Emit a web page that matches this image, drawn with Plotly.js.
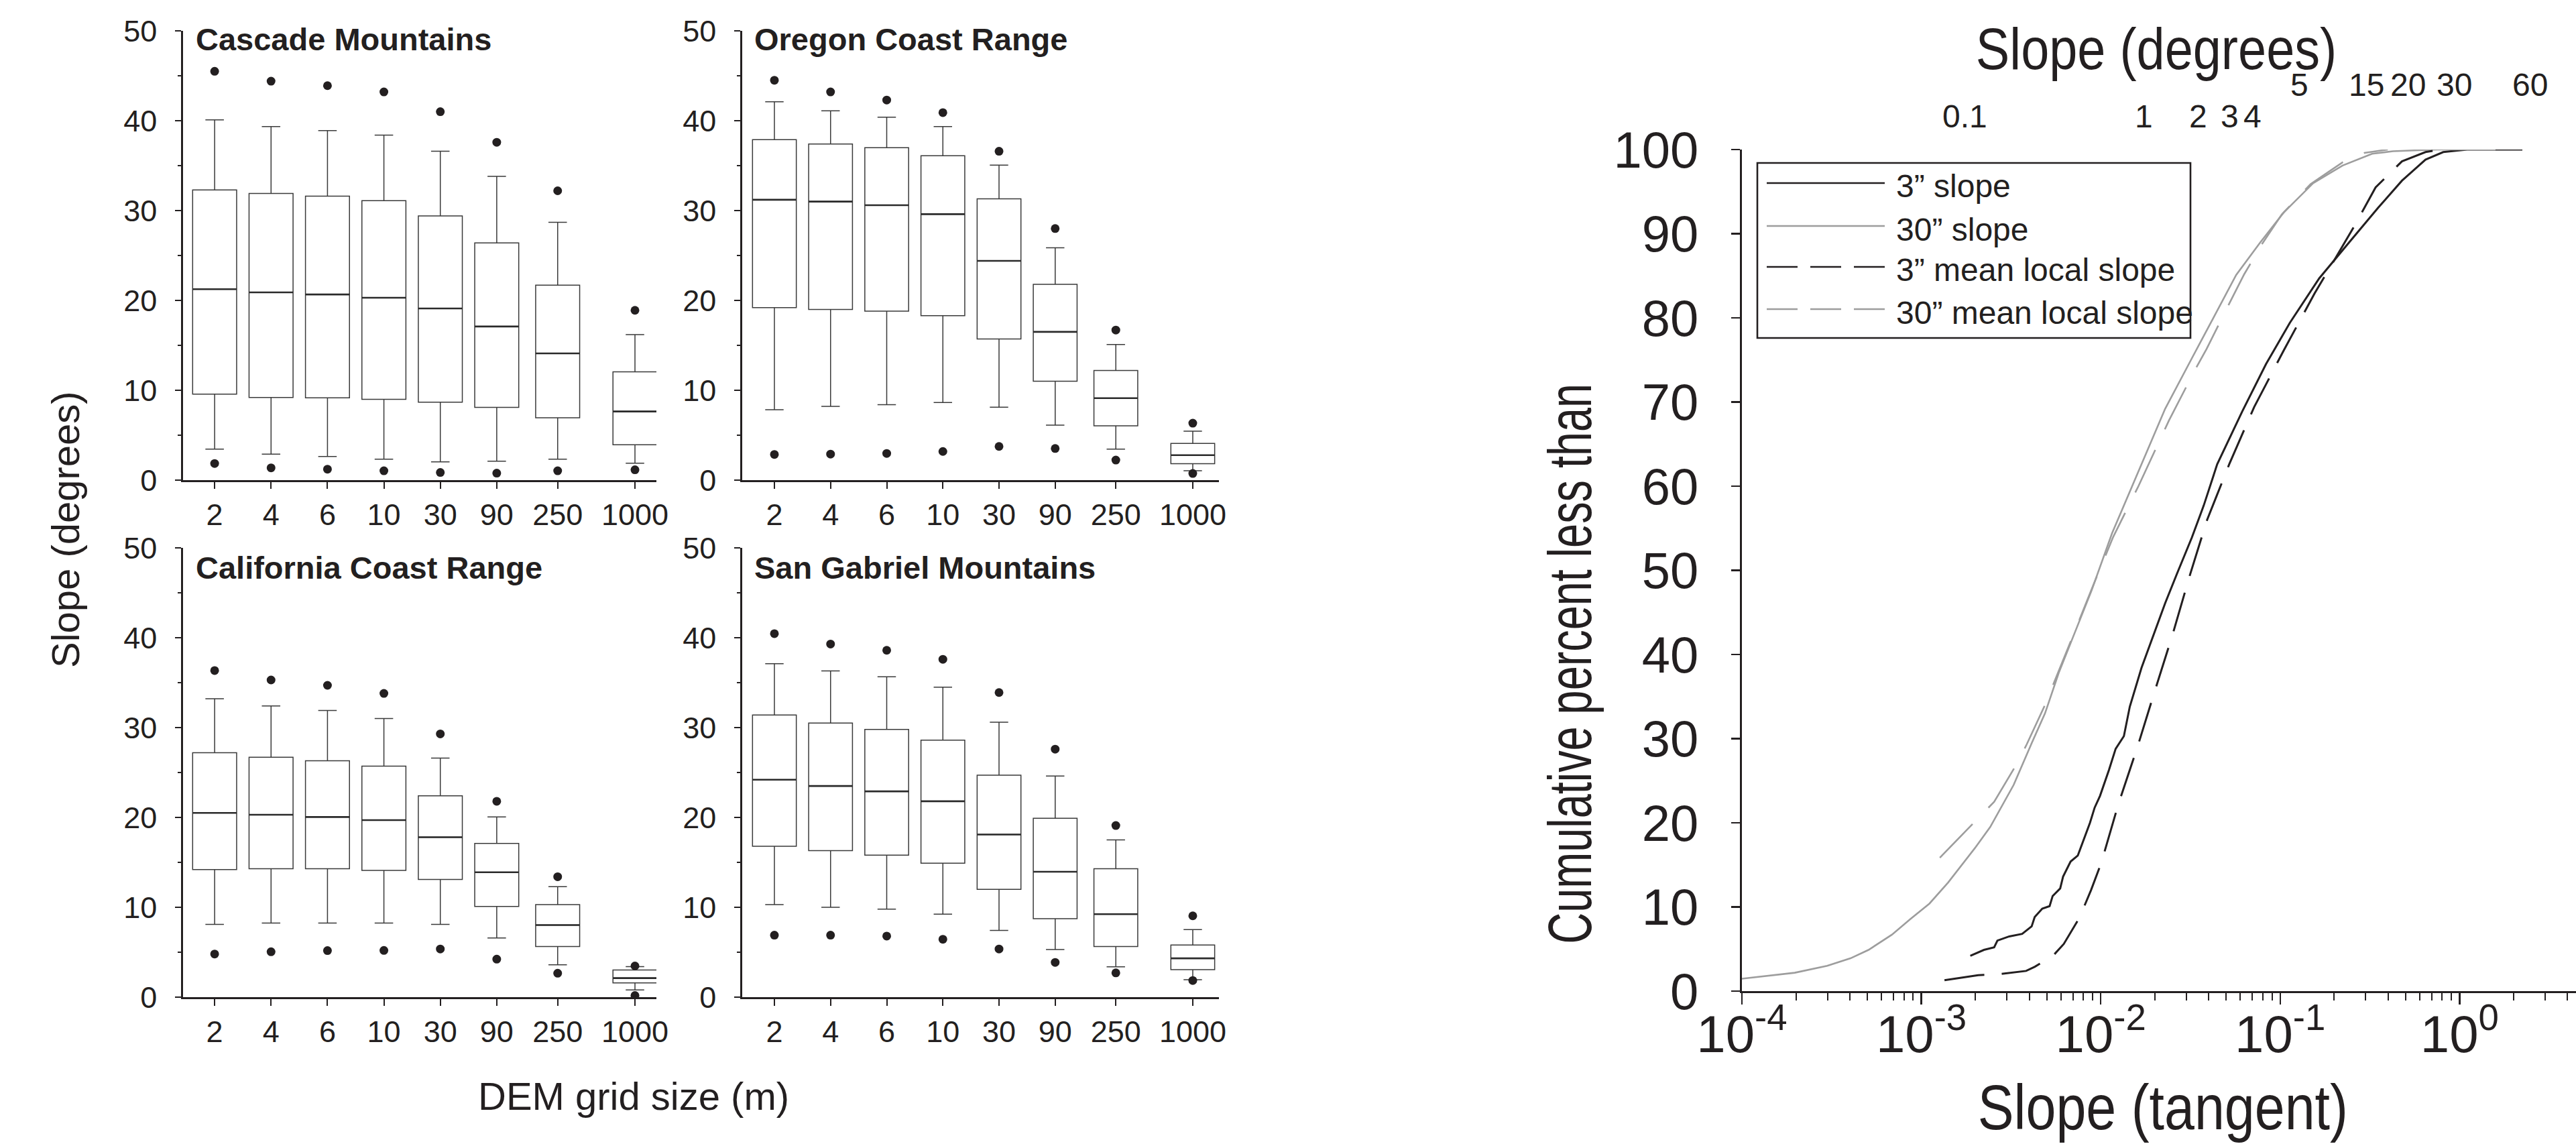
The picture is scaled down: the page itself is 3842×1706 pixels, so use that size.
<!DOCTYPE html>
<html>
<head>
<meta charset="utf-8">
<script src="https://cdn.plot.ly/plotly-3.0.1.min.js"></script>
<style>html,body{margin:0;padding:0;background:#fff}#chart{width:3842px;height:1706px}</style>
</head>
<body>
<div id="chart"></div>
<script>
// ---------- Box plot data (slope, degrees) ----------
const gridLabels = ['2','4','6','10','30','90','250','1000'];
const gridPos = [1, 2, 3, 4, 5, 6, 7.08, 8.45];

const cascadeHiDot = [45.5, 44.4, 43.9, 43.2, 41.0, 37.6, 32.2, 18.9];
const cascadeUpper = [40.1, 39.35, 38.9, 38.4, 36.6, 33.8, 28.7, 16.2];
const cascadeQ3    = [32.3, 31.9, 31.6, 31.1, 29.4, 26.4, 21.7, 12.05];
const cascadeMed   = [21.25, 20.9, 20.66, 20.3, 19.1, 17.1, 14.1, 7.64];
const cascadeQ1    = [9.57, 9.2, 9.16, 9.0, 8.68, 8.09, 6.94, 3.93];
const cascadeLower = [3.45, 2.9, 2.63, 2.34, 2.04, 2.1, 2.34, 1.89];
const cascadeLoDot = [1.85, 1.37, 1.22, 1.04, 0.85, 0.78, 1.04, 1.15];

const oregonHiDot = [44.5, 43.2, 42.3, 40.9, 36.6, 28.0, 16.7, 6.34];
const oregonUpper = [42.1, 41.1, 40.4, 39.35, 35.05, 25.85, 15.1, 5.45];
const oregonQ3    = [37.9, 37.4, 37.0, 36.1, 31.3, 21.8, 12.2, 4.08];
const oregonMed   = [31.2, 31.0, 30.6, 29.6, 24.4, 16.5, 9.12, 2.78];
const oregonQ1    = [19.2, 19.0, 18.8, 18.3, 15.7, 11.0, 6.05, 1.82];
const oregonLower = [7.83, 8.2, 8.4, 8.64, 8.12, 6.12, 3.45, 1.04];
const oregonLoDot = [2.86, 2.9, 2.97, 3.19, 3.75, 3.52, 2.23, 0.74];

const califHiDot = [36.35, 35.3, 34.7, 33.8, 29.3, 21.8, 13.4, 3.47];
const califUpper = [33.2, 32.4, 31.9, 31.0, 26.6, 20.05, 12.3, 3.4];
const califQ3    = [27.2, 26.7, 26.3, 25.7, 22.4, 17.1, 10.3, 3.02];
const califMed   = [20.5, 20.3, 20.05, 19.7, 17.8, 13.9, 8.02, 2.12];
const califQ1    = [14.2, 14.3, 14.3, 14.1, 13.1, 10.1, 5.63, 1.58];
const califLower = [8.1, 8.24, 8.24, 8.24, 8.1, 6.58, 3.6, 0.81];
const califLoDot = [4.8, 5.05, 5.18, 5.2, 5.36, 4.23, 2.66, 0.18];

const gabrielHiDot = [40.45, 39.3, 38.6, 37.6, 33.9, 27.6, 19.1, 9.05];
const gabrielUpper = [37.1, 36.3, 35.65, 34.5, 30.6, 24.6, 17.5, 7.52];
const gabrielQ3    = [31.4, 30.5, 29.8, 28.6, 24.7, 19.9, 14.3, 5.81];
const gabrielMed   = [24.2, 23.5, 22.9, 21.8, 18.1, 13.95, 9.23, 4.32];
const gabrielQ1    = [16.8, 16.3, 15.8, 14.9, 12.0, 8.74, 5.63, 3.06];
const gabrielLower = [10.3, 10.0, 9.8, 9.23, 7.43, 5.3, 3.38, 1.94];
const gabrielLoDot = [6.9, 6.9, 6.8, 6.44, 5.36, 3.87, 2.7, 1.85];

const regionNames = ['Cascade Mountains', 'Oregon Coast Range', 'California Coast Range', 'San Gabriel Mountains'];

// ---------- Cumulative distributions (slope tangent, cumulative %) ----------
const seriesNames = ['3\u201d slope', '30\u201d slope', '3\u201d mean local slope', '30\u201d mean local slope'];

const s3Tan = [0.001875, 0.002234, 0.002547, 0.002655, 0.003090, 0.003648, 0.004121, 0.004285, 0.004721, 0.005188,
  0.005395, 0.005943, 0.006166, 0.006792, 0.007447, 0.008110, 0.008710, 0.009247, 0.009908, 0.01112,
  0.01211, 0.01346, 0.01452, 0.01687, 0.01963, 0.02286, 0.02661, 0.03221, 0.03750, 0.04457,
  0.06152, 0.08337, 0.1132, 0.1652, 0.2410, 0.3524, 0.4775, 0.6457, 0.8110, 1.102, 2.239];
const s3Pct = [4.2, 4.9, 5.2, 6.0, 6.5, 6.8, 7.7, 8.8, 9.8, 10.1,
  11.3, 12.2, 13.6, 15.4, 16.1, 18.3, 20.0, 21.8, 23.2, 26.3,
  28.8, 30.3, 33.8, 38.4, 42.2, 46.1, 49.6, 53.9, 57.7, 62.6,
  68.9, 74.5, 79.4, 84.7, 88.9, 93.1, 96.3, 98.8, 99.7, 100, 100];

const s30Tan = [0.0001, 0.000197, 0.000299, 0.000403, 0.000508, 0.000685, 0.000867, 0.00111, 0.00141, 0.00199,
  0.00242, 0.00327, 0.00413, 0.00489, 0.00583, 0.00706, 0.00889, 0.01156, 0.01563, 0.01687,
  0.02286, 0.03221, 0.04365, 0.05689, 0.07709, 0.1045, 0.1528, 0.2228, 0.3258, 0.4256, 0.7499, 1.585];
const s30Pct = [1.47, 2.18, 3.0, 3.9, 4.9, 6.7, 8.55, 10.4, 12.9, 17.0,
  19.5, 24.5, 29.5, 33.0, 37.8, 42.3, 47.6, 54.4, 60.9, 62.6,
  69.2, 75.2, 80.5, 85.1, 88.9, 92.5, 96.0, 98.1, 99.5, 99.8, 100, 100];

const m3Tan = [0.001346, 0.002075, 0.002655, 0.003837, 0.004295, 0.005420, 0.006223, 0.007603, 0.008831, 0.01009,
  0.01253, 0.01596, 0.02004, 0.02518, 0.03126, 0.03917, 0.05200, 0.07161, 0.1045, 0.1556,
  0.2239, 0.2606, 0.3404, 0.4775, 0.6457, 0.7943];
const m3Pct = [1.3, 1.9, 2.0, 2.4, 2.9, 4.2, 5.6, 8.7, 12.0, 15.3,
  22.2, 28.9, 35.7, 42.4, 49.3, 56.0, 62.6, 69.4, 76.1, 82.9,
  88.6, 91.0, 95.5, 98.6, 99.7, 100];

const m30Tan = [0.001268, 0.002028, 0.002547, 0.003404, 0.003864, 0.004864, 0.00583, 0.00706, 0.00891, 0.01175,
  0.01622, 0.02399, 0.03388, 0.03890, 0.0501, 0.0631, 0.0794, 0.1023, 0.1479, 0.2234, 0.2951, 0.3981];
const m30Pct = [15.85, 20.3, 22.5, 27.0, 29.3, 33.9, 38.0, 42.4, 47.8, 54.0,
  60.0, 67.8, 74.0, 76.3, 81.0, 85.2, 88.8, 92.3, 95.9, 98.5, 99.6, 100];

// bottom axis (tangent) decades and top axis (degrees) ticks
const tanTicks = [0.0001, 0.001, 0.01, 0.1, 1];
const tanTickText = ['10<sup>-4</sup>', '10<sup>-3</sup>', '10<sup>-2</sup>', '10<sup>-1</sup>', '10<sup>0</sup>'];
const degTicks = [0.1, 1, 2, 3, 4, 5, 10, 15, 20, 30, 40, 50, 60, 70];
const degLowLabels = [0.1, 1, 2, 3, 4];
const degHighLabels = [5, 15, 20, 30, 60];

// ---------- styling ----------
const INK = '#231f20';
const GRAY = '#9d9d9d';
const FONT = 'Liberation Sans, Arial, sans-serif';
const W = 3842, H = 1706;
const px = v => v / W;
const py = v => (H - v) / H;

const traces = [];
const regions = [
  {hi: cascadeHiDot, up: cascadeUpper, q3: cascadeQ3, med: cascadeMed, q1: cascadeQ1, lo: cascadeLower, ld: cascadeLoDot},
  {hi: oregonHiDot, up: oregonUpper, q3: oregonQ3, med: oregonMed, q1: oregonQ1, lo: oregonLower, ld: oregonLoDot},
  {hi: califHiDot, up: califUpper, q3: califQ3, med: califMed, q1: califQ1, lo: califLower, ld: califLoDot},
  {hi: gabrielHiDot, up: gabrielUpper, q3: gabrielQ3, med: gabrielMed, q1: gabrielQ1, lo: gabrielLower, ld: gabrielLoDot}
];
regions.forEach((r, i) => {
  const ax = i === 0 ? '' : String(i + 1);
  traces.push({
    type: 'box', x: gridPos, q1: r.q1, median: r.med, q3: r.q3,
    lowerfence: r.lo, upperfence: r.up, boxpoints: false,
    width: 0.78, whiskerwidth: 0.42, fillcolor: '#ffffff',
    line: {color: '#3a3a3a', width: 1.5},
    xaxis: 'x' + ax, yaxis: 'y' + ax, showlegend: false, hoverinfo: 'skip'
  });
  // heavier median bar, as in the original
  traces.push({
    type: 'box', x: gridPos, q1: r.med, median: r.med, q3: r.med,
    lowerfence: r.med, upperfence: r.med, boxpoints: false,
    width: 0.78, whiskerwidth: 0, fillcolor: 'rgba(0,0,0,0)',
    line: {color: '#2a2a2a', width: 2.6},
    xaxis: 'x' + ax, yaxis: 'y' + ax, showlegend: false, hoverinfo: 'skip'
  });
  traces.push({
    type: 'scatter', mode: 'markers',
    x: gridPos.concat(gridPos), y: r.hi.concat(r.ld),
    marker: {color: INK, size: 13},
    xaxis: 'x' + ax, yaxis: 'y' + ax, showlegend: false, hoverinfo: 'skip'
  });
});

const curveDefs = [
  {x: s3Tan, y: s3Pct, color: INK, width: 3, dash: 'solid'},
  {x: s30Tan, y: s30Pct, color: GRAY, width: 2.6, dash: 'solid'},
  {x: m3Tan, y: m3Pct, color: INK, width: 3, dash: '60px,26px'},
  {x: m30Tan, y: m30Pct, color: GRAY, width: 2.6, dash: '70px,34px'}
];
curveDefs.forEach((c, i) => {
  traces.push({
    type: 'scatter', mode: 'lines', x: c.x, y: c.y, name: seriesNames[i],
    line: {color: c.color, width: c.width, dash: c.dash},
    xaxis: 'x5', yaxis: 'y5', showlegend: false, hoverinfo: 'skip'
  });
});

// ---------- axes ----------
function boxX(domain, range, anchor) {
  return {
    domain: domain, range: range, anchor: anchor,
    tickmode: 'array', tickvals: gridPos, ticktext: gridLabels,
    ticks: 'outside', ticklen: 10, tickwidth: 2, tickcolor: INK,
    showline: true, linewidth: 2.6, linecolor: INK,
    showgrid: false, zeroline: false,
    tickfont: {family: FONT, size: 45, color: INK}
  };
}
function boxY(domain, anchor) {
  return {
    domain: domain, range: [0, 50], anchor: anchor,
    tickmode: 'linear', tick0: 0, dtick: 10,
    ticks: 'outside', ticklen: 9, tickwidth: 2, tickcolor: INK,
    minor: {ticks: 'outside', ticklen: 5, tickwidth: 2, tickcolor: INK, dtick: 5, showgrid: false},
    showline: true, linewidth: 2.6, linecolor: INK,
    showgrid: false, zeroline: false, ticklabelstandoff: 18,
    tickfont: {family: FONT, size: 45, color: INK}
  };
}
const colL = [px(273), px(979)];
const colR = [px(1107), px(1818)];
const rowT = [py(716), py(46)];
const rowB = [py(1487), py(817)];
const rangeL = [0.44, 8.83];
const rangeR = [0.427, 8.916];

const logRange = [-4, 0.649];

const layout = {
  width: W, height: H,
  margin: {l: 0, r: 0, t: 0, b: 0, pad: 0},
  paper_bgcolor: '#ffffff', plot_bgcolor: 'rgba(0,0,0,0)',
  showlegend: false,
  xaxis: boxX(colL, rangeL, 'y'), yaxis: boxY(rowT, 'x'),
  xaxis2: boxX(colR, rangeR, 'y2'), yaxis2: boxY(rowT, 'x2'),
  xaxis3: boxX(colL, rangeL, 'y3'), yaxis3: boxY(rowB, 'x3'),
  xaxis4: boxX(colR, rangeR, 'y4'), yaxis4: boxY(rowB, 'x4'),
  xaxis5: {
    domain: [px(2598), 1], type: 'log', range: logRange, anchor: 'y5',
    tickmode: 'array', tickvals: tanTicks, ticktext: tanTickText,
    ticks: 'outside', ticklen: 17, tickwidth: 2.4, tickcolor: INK,
    minor: {ticks: 'outside', ticklen: 11, tickwidth: 2, tickcolor: INK, dtick: 'D1', showgrid: false},
    showline: true, linewidth: 2.6, linecolor: INK, showgrid: false, zeroline: false,
    ticklabelstandoff: -22,
    tickfont: {family: FONT, size: 78, color: INK}
  },
  xaxis6: {
    overlaying: 'x5', side: 'top', anchor: 'y5', type: 'log', range: logRange,
    tickmode: 'array', tickvals: degTicks.map(d => Math.tan(d * Math.PI / 180)),
    showticklabels: false,
    ticks: 'outside', ticklen: 15, tickwidth: 4.5, tickcolor: INK,
    showline: true, linewidth: 2.6, linecolor: INK, showgrid: false, zeroline: false
  },
  yaxis5: {
    domain: [py(1478), py(223)], range: [0, 100], anchor: 'x5',
    tickmode: 'linear', tick0: 0, dtick: 10,
    ticks: 'outside', ticklen: 13, tickwidth: 2.4, tickcolor: INK,
    showline: true, linewidth: 2.6, linecolor: INK, showgrid: false, zeroline: false,
    ticklabelstandoff: 34,
    tickfont: {family: FONT, size: 76, color: INK}
  },
  shapes: [],
  annotations: []
};

// panel titles
const titlePos = [[290, 58], [1123, 58], [290, 847], [1123, 847]];
regionNames.forEach((t, i) => {
  layout.annotations.push({
    text: '<b>' + t + '</b>', xref: 'paper', yref: 'paper',
    x: px(titlePos[i][0]), y: py(titlePos[i][1]), xanchor: 'left', yanchor: 'middle',
    showarrow: false, font: {family: FONT, size: 47, color: INK}
  });
});
// shared axis titles for the box plots
layout.annotations.push({
  text: 'Slope (degrees)', xref: 'paper', yref: 'paper', x: px(97), y: py(790),
  textangle: -90, xanchor: 'center', yanchor: 'middle', showarrow: false,
  font: {family: FONT, size: 58, color: INK}
});
layout.annotations.push({
  text: 'DEM grid size (m)', xref: 'paper', yref: 'paper', x: px(945), y: py(1634),
  xanchor: 'center', yanchor: 'middle', showarrow: false,
  font: {family: FONT, size: 58, color: INK}
});
// right chart titles (condensed after drawing, see below)
const condensed = {};
condensed[layout.annotations.length] = 0.86;
layout.annotations.push({
  text: 'Slope (degrees)', xref: 'paper', yref: 'paper', x: px(3216), y: py(72),
  xanchor: 'center', yanchor: 'middle', showarrow: false,
  font: {family: FONT, size: 88, color: INK}
});
condensed[layout.annotations.length] = 0.85;
layout.annotations.push({
  text: 'Slope (tangent)', xref: 'paper', yref: 'paper', x: px(3226), y: py(1651),
  xanchor: 'center', yanchor: 'middle', showarrow: false,
  font: {family: FONT, size: 95, color: INK}
});
condensed[layout.annotations.length] = 0.72;
layout.annotations.push({
  text: 'Cumulative percent less than', xref: 'paper', yref: 'paper', x: px(2342), y: py(990),
  textangle: -90, xanchor: 'center', yanchor: 'middle', showarrow: false,
  font: {family: FONT, size: 90, color: INK}
});
// degree tick labels (two staggered rows)
degLowLabels.forEach(d => {
  layout.annotations.push({
    text: String(d), xref: 'x5', yref: 'paper', x: Math.log10(Math.tan(d * Math.PI / 180)), y: py(174),
    xanchor: 'center', yanchor: 'middle', showarrow: false,
    font: {family: FONT, size: 48, color: INK}
  });
});
const highShift = [44, 14, 41, 56, 41];
degHighLabels.forEach((d, i) => {
  layout.annotations.push({
    text: String(d), xref: 'x5', yref: 'paper', x: Math.log10(Math.tan(d * Math.PI / 180)), y: py(126),
    xshift: highShift[i], xanchor: 'center', yanchor: 'middle', showarrow: false,
    font: {family: FONT, size: 48, color: INK}
  });
});

// legend (drawn box with line samples)
layout.shapes.push({type: 'rect', xref: 'paper', yref: 'paper', x0: px(2621), x1: px(3267), y0: py(504), y1: py(243),
  line: {color: INK, width: 2.6}, fillcolor: '#ffffff', layer: 'above'});
const legRows = [273, 337, 398, 461];
const legDash = ['solid', 'solid', '46px,19px', '46px,19px'];
curveDefs.forEach((c, i) => {
  layout.shapes.push({type: 'line', xref: 'paper', yref: 'paper', x0: px(2635), x1: px(2811), y0: py(legRows[i]), y1: py(legRows[i]),
    line: {color: c.color, width: 2.6, dash: legDash[i]}, layer: 'above'});
  layout.annotations.push({
    text: seriesNames[i], xref: 'paper', yref: 'paper', x: px(2826), y: py(legRows[i] + 5),
    xanchor: 'left', yanchor: 'middle', showarrow: false,
    font: {family: FONT, size: 48, color: INK}
  });
});

Plotly.newPlot('chart', traces, layout, {staticPlot: true, displayModeBar: false}).then(gd => {
  // the original figure uses a condensed face for its large titles
  Object.keys(condensed).forEach(k => {
    const g = gd.querySelector('g.annotation[data-index="' + k + '"]');
    if (!g) return;
    const t = g.querySelector('text.annotation-text');
    if (!t) return;
    const b = t.getBBox();
    const cx = b.x + b.width / 2, cy = b.y + b.height / 2;
    t.setAttribute('transform', 'translate(' + cx + ',' + cy + ') scale(' + condensed[k] + ',1) translate(' + (-cx) + ',' + (-cy) + ')');
  });
});
</script>
</body>
</html>
